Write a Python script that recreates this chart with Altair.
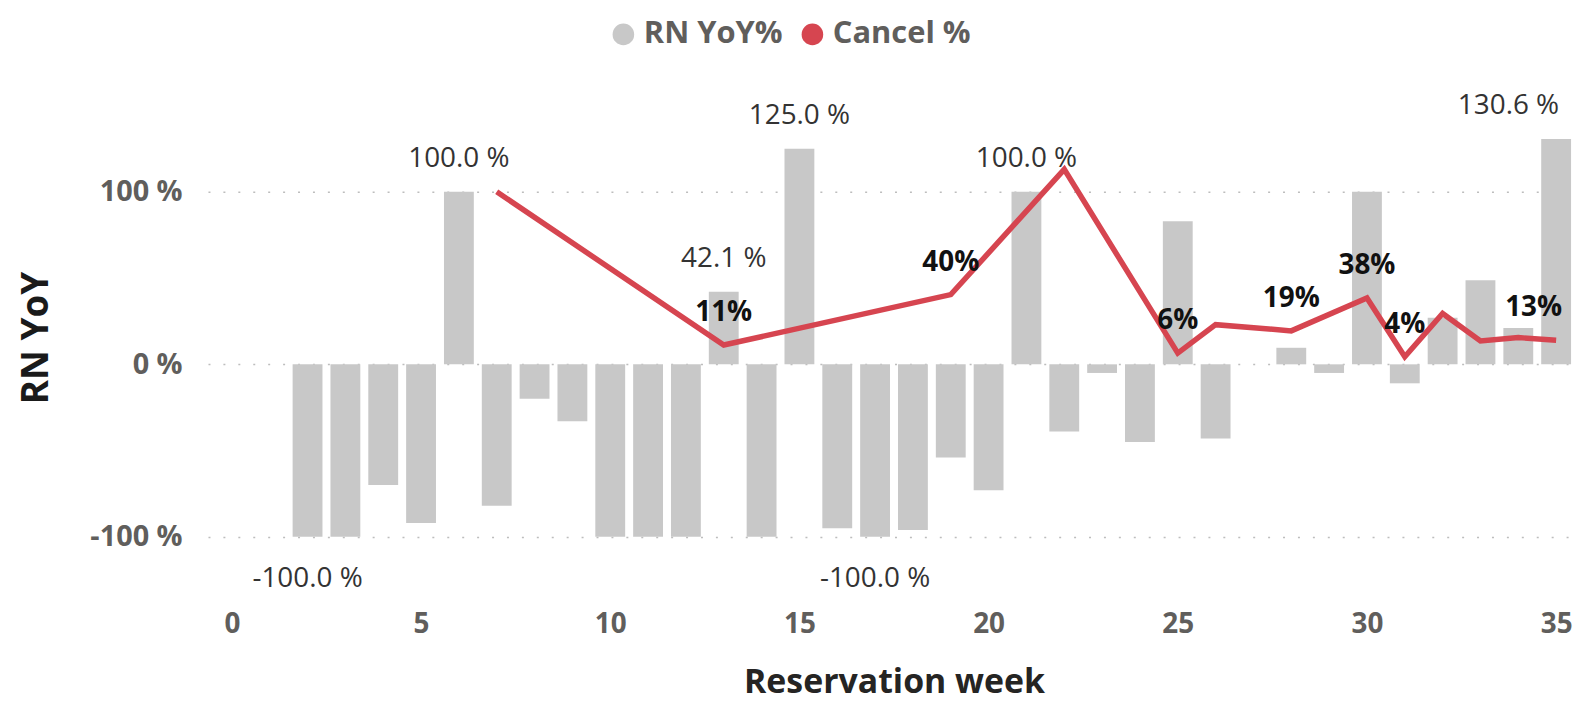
import altair as alt
import pandas as pd

# ---- data ----
weeks = [2, 3, 4, 5, 6, 7, 8, 9, 10, 11, 12, 13, 14, 15, 16, 17, 18, 19, 20, 21, 22,
         23, 24, 25, 26, 28, 29, 30, 31, 32, 33, 34, 35]
rn_yoy = [-100, -100, -70, -92, 100, -82, -20, -33, -100, -100, -100, 42.1, -100, 125,
          -95, -100, -96, -54, -73, 100, -39, -5, -45, 83, -43, 9.6, -5, 100, -11, 27,
          48.7, 21, 130.6]
rn_labels = ["-100.0 %", "", "", "", "100.0 %", "", "", "", "", "", "", "42.1 %", "",
             "125.0 %", "", "-100.0 %", "", "", "", "100.0 %", "", "", "", "", "", "",
             "", "", "", "", "", "", "130.6 %"]

cancel_weeks = [7, 13, 19, 22, 25, 26, 28, 30, 31, 32, 33, 34, 35]
cancel_pct = [100, 11.2, 40.4, 113, 6.5, 23, 19.4, 38.5, 4.4, 29.5, 13.5, 15.5, 14]
cancel_labels = ["", "11%", "40%", "", "6%", "", "19%", "38%", "4%", "", "", "", "13%"]

series_names = ["RN YoY%", "Cancel %"]
series_colors = ["#C8C8C8", "#D64550"]
x_ticks = [0, 5, 10, 15, 20, 25, 30, 35]
y_ticks = [-100, 0, 100]

bars_df = pd.DataFrame({"week": weeks, "value": rn_yoy, "label": rn_labels,
                        "series": series_names[0]})
line_df = pd.DataFrame({"week": cancel_weeks, "value": cancel_pct, "label": cancel_labels,
                        "series": series_names[1]})

FONT = "Open Sans"
GRAY_TXT = "#605E5C"
LAST_WEEK = 35

x_enc = alt.X("week:Q",
              scale=alt.Scale(domain=[-0.5, 35.5], nice=False, zero=False),
              axis=alt.Axis(values=x_ticks, format="d", title="Reservation week",
                            labelFont=FONT, labelFontSize=28, labelFontWeight="bold",
                            labelColor=GRAY_TXT, labelPadding=17, labelFlush=False,
                            ticks=False, tickSize=0, domain=False, grid=False,
                            titleFont=FONT, titleFontSize=34, titleFontWeight="bold",
                            titleColor="#252423", titlePadding=27))
y_enc = alt.Y("value:Q",
              scale=alt.Scale(domain=[-133, 164], nice=False, zero=False),
              axis=alt.Axis(values=y_ticks, labelExpr="datum.value + ' %'", title="RN YoY",
                            labelFont=FONT, labelFontSize=29, labelFontWeight="bold",
                            labelColor=GRAY_TXT, labelPadding=26,
                            ticks=False, tickSize=0, domain=False,
                            grid=True, gridDash=[2, 13], gridColor="#BDBDBD", gridWidth=1.5,
                            titleFont=FONT, titleFontSize=37, titleFontWeight="bold",
                            titleColor="#1A1A1A", titlePadding=35))

bars = alt.Chart(bars_df).mark_bar(size=30).encode(
    x=x_enc, y=y_enc,
    color=alt.Color("series:N",
                    scale=alt.Scale(domain=series_names, range=series_colors),
                    legend=alt.Legend(orient="none", legendX=402, legendY=-63,
                                      direction="horizontal", title=None,
                                      symbolType="circle", symbolSize=470,
                                      symbolStrokeWidth=0, symbolOpacity=1,
                                      labelFont=FONT, labelFontSize=31,
                                      labelFontWeight="bold", labelColor=GRAY_TXT,
                                      labelLimit=400,
                                      labelOffset=5, columnPadding=14, padding=0)),
)

bar_text_pos = alt.Chart(bars_df).transform_filter(
    f"datum.label != '' && datum.value > 0 && datum.week != {LAST_WEEK}"
).mark_text(dy=-33, font=FONT, fontSize=28, color="#333333", baseline="middle").encode(
    x=x_enc, y=y_enc, text="label:N")

bar_text_end = alt.Chart(bars_df).transform_filter(
    f"datum.label != '' && datum.week == {LAST_WEEK}"
).mark_text(dy=-33, dx=3, align="right", font=FONT, fontSize=28, color="#333333",
            baseline="middle").encode(x=x_enc, y=y_enc, text="label:N")

bar_text_neg = alt.Chart(bars_df).transform_filter(
    "datum.label != '' && datum.value < 0"
).mark_text(dy=42, font=FONT, fontSize=28, color="#333333", baseline="middle").encode(
    x=x_enc, y=y_enc, text="label:N")

line = alt.Chart(line_df).mark_line(color=series_colors[1], strokeWidth=5.5).encode(
    x=x_enc, y=y_enc)

line_text = alt.Chart(line_df).transform_filter(
    f"datum.label != '' && datum.week != {LAST_WEEK}"
).mark_text(dy=-32, font=FONT, fontSize=28, fontWeight="bold", color="#111111",
            baseline="middle").encode(x=x_enc, y=y_enc, text="label:N")

line_text_end = alt.Chart(line_df).transform_filter(
    f"datum.label != '' && datum.week == {LAST_WEEK}"
).mark_text(dy=-32, dx=6, align="right", font=FONT, fontSize=28, fontWeight="bold",
            color="#111111", baseline="middle").encode(x=x_enc, y=y_enc, text="label:N")

chart = alt.layer(bars, bar_text_pos, bar_text_end, bar_text_neg, line, line_text,
                  line_text_end).properties(
    width=1379, height=515,
    autosize=alt.AutoSizeParams(type="none"),
    padding={"left": 201, "top": 72, "right": 5, "bottom": 108},
    background="white",
).configure_view(stroke=None)

chart.save("out.html", embed_options={"renderer": "svg", "actions": False})
